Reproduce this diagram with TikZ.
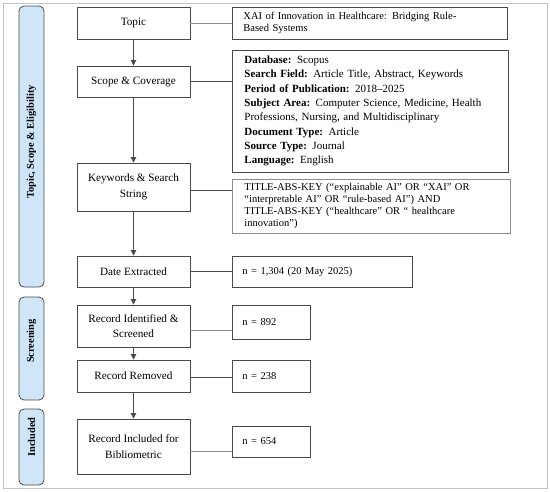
\documentclass[tikz,border=0pt]{standalone}
\usepackage{fontspec}
\setmainfont{Liberation Serif}
\usetikzlibrary{arrows.meta}
\definecolor{edge}{HTML}{4A4A4A}
\definecolor{lite}{HTML}{8C8C8C}
\definecolor{barfill}{HTML}{CFE6F8}
\definecolor{frame}{HTML}{C4C4C4}
\tikzset{
  mainbox/.style={draw=edge, line width=0.9pt, minimum width=113pt, align=center, inner sep=2pt,
    font=\fontsize{11.2}{15.5}\selectfont},
  infobox/.style={draw=edge, line width=0.9pt, align=left, anchor=west, inner sep=0pt,
    font=\fontsize{10.5}{12}\selectfont},
  sidebar/.style={draw=edge, fill=barfill, line width=0.8pt, rounded corners=5pt, minimum width=25pt},
  sidelabel/.style={rotate=90, font=\bfseries\fontsize{10.4}{11}\selectfont},
  flow/.style={draw=edge, line width=0.9pt, -{Triangle[length=5.5pt,width=5.5pt]}},
  link/.style={draw=edge, line width=0.8pt},
  linklite/.style={draw=lite, line width=0.7pt}
}
\begin{document}
\begin{tikzpicture}[x=1pt,y=-1pt]
\useasboundingbox (0,0) rectangle (550,491);
\draw[frame, line width=0.8pt] (3,3) rectangle (547,488);

% side bars
\node[sidebar, minimum height=281pt] (bar1) at (31.5,146.5) {};
\node[sidebar, minimum height=103pt] (bar2) at (31.5,348.5) {};
\node[sidebar, minimum height=76pt] (bar3) at (31.5,447) {};
\node[sidelabel] (lab1) at (31.5,142) {Topic, Scope \& Eligibility};
\node[sidelabel] (lab2) at (31.5,341) {Screening};
\node[sidelabel] (lab3) at (31.5,437) {Included};

% main boxes
\node[mainbox, minimum height=32pt] (topic) at (133.5,23) {Topic};
\node[mainbox, minimum height=31pt] (scope) at (133.5,81.5) {Scope \& Coverage};
\node[mainbox, minimum height=48pt] (kw) at (133.5,187) {Keywords \& Search\\String};
\node[mainbox, minimum height=31pt] (date) at (133.5,271.5) {Date Extracted};
\node[mainbox, minimum height=42pt] (ident) at (133.5,326) {Record Identified \&\\Screened};
\node[mainbox, minimum height=32pt] (remov) at (133.5,376) {Record Removed};
\node[mainbox, minimum height=55pt] (incl) at (133.5,446.5) {Record Included for\\Bibliometric};

% info boxes
\node[infobox, minimum width=265pt, minimum height=32pt, text width=253pt, inner xsep=11pt] (itopic) at (232,23)
  {XAI of Innovation in Healthcare: Bridging Rule-\\Based Systems};
\node[infobox, minimum width=265pt, minimum height=122pt, text width=252pt, inner xsep=12pt,
  font=\fontsize{11}{14.3}\selectfont] (iscope) at (232,111)
  {\textbf{Database:} Scopus\\
   \textbf{Search Field:} Article Title, Abstract, Keywords\\
   \textbf{Period of Publication:} 2018–2025\\
   \textbf{Subject Area:} Computer Science, Medicine, Health\\
   Professions, Nursing, and Multidisciplinary\\
   \textbf{Document Type:} Article\\
   \textbf{Source Type:} Journal\\
   \textbf{Language:} English};
\node[infobox, draw=lite, minimum width=266pt, minimum height=54pt, text width=254pt, inner xsep=12pt] (ikw) at (232,206)
  {TITLE-ABS-KEY (“explainable AI” OR “XAI” OR\\
   “interpretable AI” OR “rule-based AI”) AND\\
   TITLE-ABS-KEY (“healthcare” OR “ healthcare\\
   innovation”)};
\node[infobox, minimum width=170pt, minimum height=31pt, text width=160pt, inner xsep=10pt] (idate) at (232,271.5)
  {n = 1,304 (20 May 2025)};
\node[infobox, minimum width=68pt, minimum height=34pt, text width=58pt, inner xsep=10pt] (iident) at (232,322) {n = 892};
\node[infobox, minimum width=68pt, minimum height=32pt, text width=58pt, inner xsep=10pt] (iremov) at (232,376) {n = 238};
\node[infobox, minimum width=68pt, minimum height=31pt, text width=58pt, inner xsep=10pt] (iincl) at (232,441.5) {n = 654};

% flow arrows
\draw[flow] (topic) -- (scope);
\draw[flow] (scope) -- (kw);
\draw[flow] (kw) -- (date);
\draw[flow] (date) -- (ident);
\draw[flow] (ident) -- (remov);
\draw[flow] (remov) -- (incl);

% connectors
\draw[linklite] (topic.east) -- (topic.east -| itopic.west);
\draw[link] (scope.east) -- (scope.east -| iscope.west);
\draw[link] ([yshift=-3pt]kw.east) -- ([yshift=-3pt]kw.east -| ikw.west);
\draw[link] (date.east) -- (date.east -| idate.west);
\draw[linklite] ([yshift=-4pt]ident.east) -- ([yshift=-4pt]ident.east -| iident.west);
\draw[link] ([yshift=-1pt]remov.east) -- ([yshift=-1pt]remov.east -| iremov.west);
\draw[linklite] ([yshift=-4.5pt]incl.east) -- ([yshift=-4.5pt]incl.east -| iincl.west);
\end{tikzpicture}
\end{document}
